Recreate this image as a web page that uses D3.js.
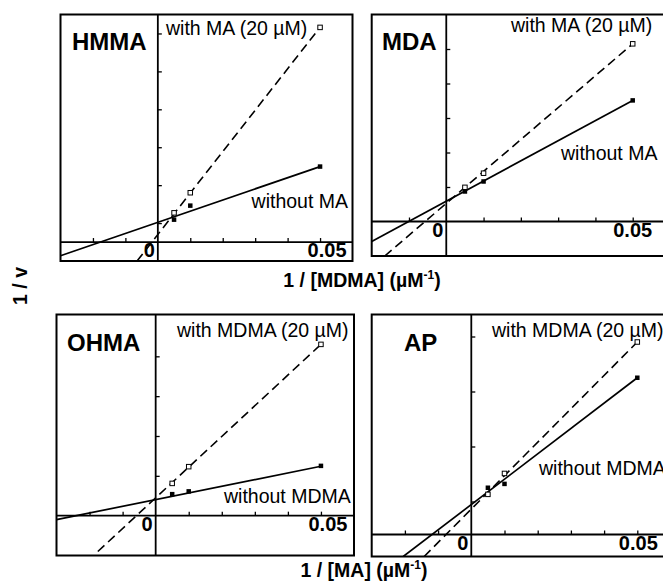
<!DOCTYPE html>
<html><head><meta charset="utf-8">
<script src="https://cdn.jsdelivr.net/npm/d3@7"></script>
<style>
html,body{margin:0;padding:0;background:#fff;}
text{font-family:"Liberation Sans",Arial,Helvetica,sans-serif;fill:#000;}
</style></head><body>
<svg id="chart" width="663" height="583"></svg>
<script>
// ---------------- data ----------------
const panelNames = ["HMMA", "MDA", "OHMA", "AP"];
const xPoints = [0.005, 0.01, 0.05];                 // 1/[substrate] (µM^-1)
const withoutValues = [                               // 1/v, filled squares
  [0.59, 0.96, 1.99],
  [0.87, 1.16, 3.51],
  [0.54, 0.61, 1.25],
  [0.85, 0.92, 2.85]
];
const withValues = [                                  // 1/v, open squares
  [0.77, 1.30, 5.66],
  [0.99, 1.40, 5.15],
  [0.81, 1.23, 4.30],
  [0.73, 1.11, 3.50]
];
// fitted lines: [xStart, yStart, xEnd, yEnd]
const withoutFit = [
  [-0.03, -0.36, 0.05, 1.99],
  [-0.02, -0.58, 0.05, 3.51],
  [-0.03, -0.10, 0.05, 1.24],
  [-0.0205, -0.40, 0.05, 2.85]
];
const withFit = [
  [-0.0064, -0.50, 0.05, 5.66],
  [-0.0165, -1.00, 0.05, 5.15],
  [-0.0175, -0.90, 0.05, 4.30],
  [-0.0142, -0.40, 0.05, 3.50]
];
const xDomains = [[-0.03, 0.06], [-0.02, 0.06], [-0.03, 0.06], [-0.03, 0.06]];
const yDomains = [[-0.5, 6.0], [-1, 6], [-1, 5.05], [-0.4, 4.0]];
const xTickValues = [-0.02, -0.01, 0.01, 0.02, 0.03, 0.04, 0.05];
const yTickValues = [
  [0.5, 1.5, 2.5, 3.5, 4.5, 5.5],
  [1, 2, 3, 4, 5],
  [1, 2, 3, 4],
  [0.6, 1.6, 2.6, 3.6]
];
const xTickLabels = ["0", "0.05"];
const withLabels = ["with MA (20 \u00B5M)", "with MA (20 \u00B5M)", "with MDMA (20 \u00B5M)", "with MDMA (20 \u00B5M)"];
const withoutLabels = ["without MA", "without MA", "without MDMA", "without MDMA"];
const xAxisTitles = ["1 / [MDMA] (\u00B5M", "1 / [MA] (\u00B5M"];
const yAxisTitle = "1 / v";

// ---------------- layout ----------------
const boxes = [
  {x0: 60.5, x1: 352.5, y0: 14.5, y1: 261},
  {x0: 371.7, x1: 670, y0: 14.5, y1: 256},
  {x0: 56.5, x1: 354, y0: 314.5, y1: 555.5},
  {x0: 371.7, x1: 670.5, y0: 314.5, y1: 556.5}
];
const titlePos = [[72, 50], [382, 50], [67, 351], [404, 351]];
const withPos = [[166, 35, "start"], [511, 32, "start"], [177, 337, "start"], [492, 337, "start"]];
const withoutPos = [[348, 208, "end"], [561, 160, "start"], [224, 503, "start"], [539, 475, "start"]];
const label005Dx = [7, 0, 7, 1];

const svg = d3.select("#chart");

panelNames.forEach((name, i) => {
  const b = boxes[i];
  const x = d3.scaleLinear().domain(xDomains[i]).range([b.x0, b.x1]);
  const y = d3.scaleLinear().domain(yDomains[i]).range([b.y1, b.y0]);
  const g = svg.append("g");

  const clipId = "clip" + i;
  svg.append("clipPath").attr("id", clipId)
    .append("rect").attr("x", b.x0).attr("y", b.y0)
    .attr("width", b.x1 - b.x0).attr("height", b.y1 - b.y0);

  // axes through origin
  g.append("line").attr("x1", x(0)).attr("x2", x(0)).attr("y1", b.y0).attr("y2", b.y1)
    .attr("stroke", "#000").attr("stroke-width", 1.8);
  g.append("line").attr("x1", b.x0).attr("x2", b.x1).attr("y1", y(0)).attr("y2", y(0))
    .attr("stroke", "#000").attr("stroke-width", 1.8);

  const xt = xTickValues.filter(v => v > xDomains[i][0] && v < xDomains[i][1]);
  const xAxis = d3.axisTop(x).tickValues(xt).tickSize(4).tickFormat("");
  const gx = g.append("g").attr("transform", `translate(0,${y(0)})`).call(xAxis);
  gx.select(".domain").remove();
  gx.selectAll(".tick line").attr("stroke", "#000").attr("stroke-width", 1.3);

  const yAxis = d3.axisRight(y).tickValues(yTickValues[i]).tickSize(4).tickFormat("");
  const gy = g.append("g").attr("transform", `translate(${x(0)},0)`).call(yAxis);
  gy.select(".domain").remove();
  gy.selectAll(".tick line").attr("stroke", "#000").attr("stroke-width", 1.3);

  // fitted lines
  const lg = g.append("g").attr("clip-path", `url(#${clipId})`);
  const wf = withoutFit[i];
  lg.append("line").attr("x1", x(wf[0])).attr("y1", y(wf[1])).attr("x2", x(wf[2])).attr("y2", y(wf[3]))
    .attr("stroke", "#000").attr("stroke-width", 1.7);
  const df = withFit[i];
  lg.append("line").attr("x1", x(df[0])).attr("y1", y(df[1])).attr("x2", x(df[2])).attr("y2", y(df[3]))
    .attr("stroke", "#000").attr("stroke-width", 1.6).attr("stroke-dasharray", "9,5");

  // points
  const s = 4.5;
  g.selectAll(".pw").data(xPoints.map((v, k) => [v, withValues[i][k]])).enter().append("rect")
    .attr("x", d => x(d[0]) - s / 2).attr("y", d => y(d[1]) - s / 2)
    .attr("width", s).attr("height", s)
    .attr("fill", "#fff").attr("stroke", "#000").attr("stroke-width", 1);
  g.selectAll(".pwo").data(xPoints.map((v, k) => [v, withoutValues[i][k]])).enter().append("rect")
    .attr("x", d => x(d[0]) - s / 2).attr("y", d => y(d[1]) - s / 2)
    .attr("width", s).attr("height", s)
    .attr("fill", "#000");

  // border
  g.append("rect").attr("x", b.x0).attr("y", b.y0).attr("width", b.x1 - b.x0).attr("height", b.y1 - b.y0)
    .attr("fill", "none").attr("stroke", "#000").attr("stroke-width", 2);

  // texts
  g.append("text").attr("x", titlePos[i][0]).attr("y", titlePos[i][1])
    .attr("font-size", 24).attr("font-weight", "bold").text(name);
  g.append("text").attr("x", withPos[i][0]).attr("y", withPos[i][1]).attr("text-anchor", withPos[i][2])
    .attr("font-size", 19.5).text(withLabels[i]);
  g.append("text").attr("x", withoutPos[i][0]).attr("y", withoutPos[i][1]).attr("text-anchor", withoutPos[i][2])
    .attr("font-size", 19.5).text(withoutLabels[i]);
  g.append("text").attr("x", x(0) - 3).attr("y", y(0) + 15).attr("text-anchor", "end")
    .attr("font-size", 20).attr("font-weight", "bold").text(xTickLabels[0]);
  g.append("text").attr("x", x(0.05) + label005Dx[i]).attr("y", y(0) + 15).attr("text-anchor", "middle")
    .attr("font-size", 20).attr("font-weight", "bold").text(xTickLabels[1]);
});

// axis titles
const titleY = [287, 577];
const titleX = [362, 364];
xAxisTitles.forEach((t, i) => {
  const tx = svg.append("text").attr("x", titleX[i]).attr("y", titleY[i]).attr("text-anchor", "middle")
    .attr("font-size", 19.5).attr("font-weight", "bold");
  tx.append("tspan").text(t);
  tx.append("tspan").attr("font-size", 12).attr("dy", -8).text("-1");
  tx.append("tspan").attr("dy", 8).text(")");
});
svg.append("text").attr("transform", "translate(27,286) rotate(-90)").attr("text-anchor", "middle")
  .attr("font-size", 19.5).attr("font-weight", "bold").text(yAxisTitle);
</script>
</body></html>
